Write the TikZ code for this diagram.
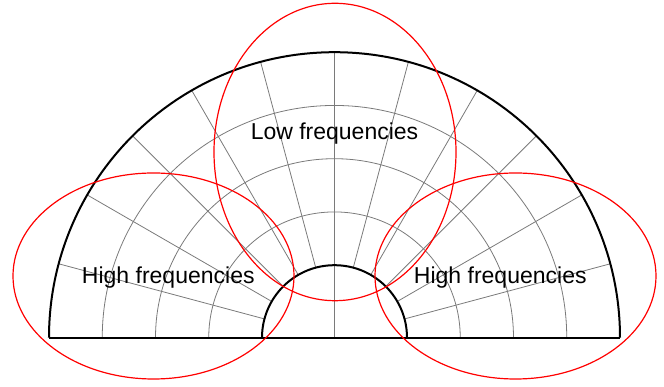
\documentclass[tikz,border=0pt]{standalone}
\usepackage{fontspec}
\setmainfont{Liberation Sans}
\usepackage{xcolor}
\usetikzlibrary{positioning}
\definecolor{LobeRed}{HTML}{FF0000}
\definecolor{GridGray}{HTML}{7A7A7A}

\begin{document}
\begin{tikzpicture}[x=1pt,y=1pt,
    gridline/.style={draw=GridGray, line width=0.8pt},
    rim/.style={draw=black, line width=2pt},
    lobe/.style={draw=LobeRed, line width=1.2pt},
    lobetext/.style={anchor=base, text=black, inner sep=0pt,
                     font=\fontsize{23}{27}\selectfont}]
  \useasboundingbox (-334.5,-49.3) rectangle (329.5,337.7);
  % polar grid
  \foreach \r in {125.75,179,232.25}
    \draw[gridline] (\r,0) arc[start angle=0, end angle=180, radius=\r];
  \foreach \a in {15,30,...,165}
    \draw[gridline] (\a:72.5) -- (\a:285.5);
  \draw[gridline] (0,0) -- (0,72.5);
  % outline
  \draw[rim] (-285.5,0) -- (285.5,0);
  \draw[rim] (285.5,0) arc[start angle=0, end angle=180, radius=285.5];
  \draw[rim] (72.5,0) arc[start angle=0, end angle=180, radius=72.5];
  % lobes
  \draw[lobe] (0.5,185.7) ellipse[x radius=121, y radius=148.7];
  \draw[lobe] (-181,61.7) ellipse[x radius=140.5, y radius=103];
  \draw[lobe] (181,61.7) ellipse[x radius=140.5, y radius=103];
  \node[lobetext] (low) at (0,197.7) {Low frequencies};
  \node[lobetext] (highleft) at (-166.2,54.4) {High frequencies};
  \node[lobetext] (highright) at (165.8,54.4) {High frequencies};
\end{tikzpicture}
\end{document}
